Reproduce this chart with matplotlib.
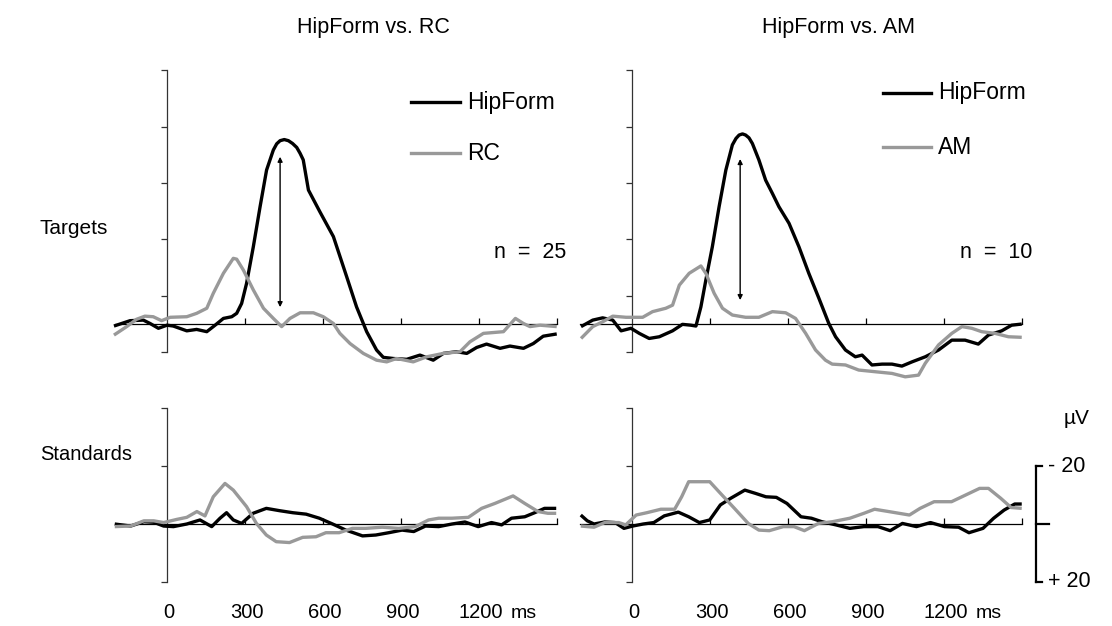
import matplotlib
matplotlib.use("Agg")
import matplotlib.pyplot as plt
from matplotlib.lines import Line2D

plt.rcParams["font.family"] = ["Liberation Sans", "DejaVu Sans"]

W, H = 1112, 626

# ---------------- data (time in ms, amplitude in µV; negative plotted up) ----------------
# Targets, HipForm vs. RC
t_tl_hip = [-204, -142, -91, -65, -33, 0, 24, 76, 114, 153, 185, 217, 249, 268, 287, 306, 332,
            358, 383, 409, 422, 435, 451, 467, 483, 499, 512, 524, 544, 588, 640, 691, 729, 768,
            806, 832, 870, 922, 973, 1024, 1063, 1114, 1153, 1191, 1229, 1281, 1319, 1371, 1409,
            1447, 1499]
v_tl_hip = [0.7, -1.2, -1.4, -0.2, 1.5, 0.4, 0.7, 2.4, 1.9, 2.7, 0.4, -2.0, -2.6, -3.8, -7.3,
            -14.4, -27.4, -41.6, -54.6, -61.7, -63.9, -65.0, -65.4, -65.0, -64.0, -62.6, -60.5,
            -58.2, -47.5, -39.8, -31.0, -16.8, -6.1, 2.7, 9.2, 11.8, 12.2, 12.5, 11.0, 12.8, 10.4,
            9.8, 10.4, 8.3, 7.1, 8.6, 7.8, 8.6, 6.9, 4.3, 3.5]
t_tl_rc = [-204, -155, -117, -85, -53, -21, 12, 76, 114, 153, 178, 217, 255, 268, 294, 332, 371,
           409, 441, 473, 512, 563, 601, 640, 665, 704, 755, 806, 845, 883, 947, 999, 1063, 1127,
           1165, 1217, 1294, 1340, 1371, 1396, 1435, 1499]
v_tl_rc = [3.9, 0.9, -1.7, -2.8, -2.6, -1.2, -2.4, -2.6, -3.8, -5.6, -10.9, -18.0, -23.3, -23.0,
           -19.1, -12.1, -5.6, -2.0, 0.9, -2.0, -4.0, -4.0, -2.6, -0.2, 3.3, 6.9, 10.4, 12.8,
           13.4, 12.2, 13.4, 11.6, 10.4, 9.8, 6.3, 3.3, 2.7, -2.0, -0.2, 0.9, 0.4, 0.9]

# Targets, HipForm vs. AM
t_tr_hip = [-196, -151, -113, -74, -42, -4, 28, 66, 105, 156, 194, 226, 246, 265, 284, 309, 335,
            361, 386, 400, 412, 425, 437, 450, 463, 488, 514, 540, 565, 604, 642, 680, 719, 757,
            783, 821, 859, 885, 923, 962, 1000, 1038, 1077, 1128, 1179, 1230, 1281, 1332, 1371,
            1422, 1460, 1499]
v_tr_hip = [0.9, -1.4, -2.2, -1.4, 2.4, 1.5, 3.3, 5.1, 4.5, 2.4, 0.1, 0.4, 0.7, -6.1, -15.6,
            -27.4, -41.6, -54.6, -63.5, -65.8, -67.0, -67.4, -67.0, -66.0, -64.0, -58.2, -51.0,
            -46.3, -41.6, -35.7, -27.4, -18.0, -9.1, -0.2, 4.5, 9.2, 11.6, 11.0, 14.5, 14.2, 14.2,
            14.9, 13.4, 11.6, 9.2, 5.7, 5.7, 7.1, 3.9, 2.4, 0.4, 0.0]
t_tr_am = [-196, -151, -113, -74, -23, 41, 79, 130, 156, 182, 220, 265, 284, 316, 348, 386, 437,
           488, 540, 591, 629, 668, 706, 744, 770, 821, 872, 936, 1000, 1051, 1102, 1128, 1179,
           1230, 1269, 1307, 1345, 1396, 1448, 1499]
v_tr_am = [5.1, 0.9, -0.8, -2.8, -2.4, -2.4, -4.4, -5.6, -6.7, -13.8, -18.0, -20.6, -18.0, -10.9,
           -5.6, -3.2, -2.4, -2.4, -4.4, -4.0, -2.0, 3.3, 9.2, 12.8, 14.2, 14.5, 16.3, 16.9, 17.5,
           18.7, 18.1, 13.9, 7.4, 3.3, 0.9, 1.5, 2.7, 3.3, 4.5, 4.7]

# Standards, HipForm vs. RC
t_bl_hip = [-201, -140, -89, -51, -13, 25, 76, 127, 172, 204, 229, 255, 287, 331, 382, 433, 484,
            535, 586, 637, 688, 752, 803, 853, 904, 949, 994, 1045, 1096, 1146, 1197, 1248, 1287,
            1325, 1376, 1414, 1452, 1497]
v_bl_hip = [0.0, 0.7, -0.8, -0.6, 0.7, 0.9, 0.0, -1.4, 0.9, -2.0, -3.9, -1.4, -0.2, -3.7, -5.4,
            -4.6, -3.9, -3.4, -2.0, 0.0, 2.1, 4.1, 3.8, 3.0, 2.1, 2.6, 0.7, 0.9, 0.0, -0.7, 0.9,
            -0.5, 0.3, -2.0, -2.5, -3.9, -5.4, -5.4]
t_bl_rc = [-201, -140, -89, -51, -13, 38, 76, 115, 146, 178, 223, 255, 306, 344, 382, 420, 471,
           522, 573, 611, 662, 713, 764, 828, 891, 955, 1006, 1045, 1096, 1159, 1210, 1261, 1331,
           1376, 1427, 1465, 1497]
v_bl_rc = [0.9, 0.7, -1.1, -1.1, -0.5, -1.6, -2.3, -4.3, -2.8, -9.4, -14.0, -11.7, -6.0, -0.2,
           3.8, 6.1, 6.4, 4.6, 4.4, 3.0, 3.0, 1.5, 1.5, 1.1, 1.5, 0.9, -1.4, -2.0, -2.0, -2.3,
           -5.4, -7.1, -9.7, -7.1, -4.3, -3.7, -3.7]

# Standards, HipForm vs. AM
t_br_hip = [-197, -172, -146, -105, -65, -31, 3, 43, 84, 124, 178, 218, 259, 299, 340, 380, 434,
            474, 515, 555, 596, 650, 690, 730, 784, 838, 892, 946, 993, 1040, 1094, 1148, 1202,
            1256, 1296, 1350, 1391, 1431, 1472, 1499]
v_br_hip = [-3.1, -1.1, 0.0, -0.7, -0.5, 1.5, 0.7, 0.0, -0.5, -2.8, -4.1, -2.5, -0.5, -1.4, -6.6,
            -8.9, -11.7, -10.6, -9.4, -9.2, -7.1, -2.5, -2.0, -0.8, 0.3, 1.5, 0.9, 0.9, 2.3, -0.2,
            0.9, -0.5, 0.9, 1.1, 3.0, 1.5, -2.0, -4.8, -6.9, -6.9]
t_br_am = [-197, -146, -105, -51, -24, 16, 57, 111, 164, 191, 218, 259, 299, 340, 394, 447, 488,
           528, 582, 623, 663, 717, 771, 838, 892, 933, 987, 1067, 1108, 1162, 1229, 1283, 1337,
           1371, 1418, 1458, 1499]
v_br_am = [0.7, 1.1, -0.5, -0.5, 0.3, -3.1, -3.9, -5.1, -5.1, -9.4, -14.6, -14.6, -14.6, -10.6,
           -5.4, -0.2, 2.1, 2.3, 0.9, 0.9, 2.3, -0.2, -0.8, -2.0, -3.7, -5.1, -4.3, -3.1, -5.4,
           -7.7, -7.7, -10.0, -12.3, -12.3, -8.9, -5.7, -5.4]

# peak-difference markers (time, from, to)
arrow_rc = (435, -59.3, -6.0)
arrow_am = (416, -58.5, -8.5)

titles = ["HipForm vs. RC", "HipForm vs. AM"]
row_labels = ["Targets", "Standards"]
legend_names = [("HipForm", "RC"), ("HipForm", "AM")]
n_labels = ["n  =  25", "n  =  10"]
time_ticks = [0, 300, 600, 900, 1200]
scale_labels = ["- 20", "+ 20"]

BLACK = "#000000"
GRAY = "#999999"
LW = 2.4


def px(x):
    return x / W


def py(y):
    return 1 - y / H


fig = plt.figure(figsize=(W / 100, H / 100), dpi=100)


def make_axes(x0, y0, x1, y1):
    return fig.add_axes([px(x0), py(y1), px(x1 - x0), (y1 - y0) / H])


# column pixel extents (-200 .. 1500 ms), row pixel extents
cols = [(115, 557), (580, 1022)]
rows = [(60, 385), (400, 595)]
row_ylim = [(21.6, -93.6), (24.5, -42.8)]
row_bounds = [(-90, 10), (-40, 20)]
row_yticks = [[-90, -70, -50, -30, -10, 10], [-40, -20, 0, 20]]

series = [
    [(t_tl_hip, v_tl_hip, t_tl_rc, v_tl_rc), (t_tr_hip, v_tr_hip, t_tr_am, v_tr_am)],
    [(t_bl_hip, v_bl_hip, t_bl_rc, v_bl_rc), (t_br_hip, v_br_hip, t_br_am, v_br_am)],
]

axes = {}
for r in range(2):
    for c in range(2):
        ax = make_axes(cols[c][0], rows[r][0], cols[c][1], rows[r][1])
        axes[(r, c)] = ax
        ax.set_xlim(-200, 1500)
        ax.set_ylim(*row_ylim[r])
        ax.patch.set_visible(False)
        for s in ["top", "right"]:
            ax.spines[s].set_visible(False)
        ax.spines["left"].set_position(("data", 0))
        ax.spines["left"].set_bounds(*row_bounds[r])
        ax.spines["left"].set_linewidth(0.9)
        ax.spines["left"].set_color("#333333")
        ax.spines["bottom"].set_position(("data", 0))
        ax.spines["bottom"].set_bounds(-200, 1500)
        ax.spines["bottom"].set_linewidth(0.9)
        ax.set_yticks(row_yticks[r])
        ax.set_xticks([300, 600, 900, 1200, 1500])
        ax.tick_params(axis="y", direction="out", length=4.5, width=0.9, color="#333333",
                       labelleft=False)
        ax.tick_params(axis="x", direction="in", length=4.5, width=0.9, labelbottom=False)

        th, vh, tg, vg = series[r][c]
        ax.plot(th, vh, color=BLACK, lw=LW, solid_joinstyle="round", solid_capstyle="butt",
                clip_on=False, zorder=3)
        ax.plot(tg, vg, color=GRAY, lw=LW, solid_joinstyle="round", solid_capstyle="butt",
                clip_on=False, zorder=4)

# double arrows in the target panels
for c, (t, a, b) in enumerate([arrow_rc, arrow_am]):
    axes[(0, c)].annotate("", xy=(t, a), xytext=(t, b),
                          arrowprops=dict(arrowstyle="<|-|>", color="black", lw=1.0,
                                          mutation_scale=7, shrinkA=0, shrinkB=0),
                          zorder=5)

# titles and row labels
for c, (title, cx) in enumerate(zip(titles, [373, 838])):
    fig.text(px(cx), py(28), title, ha="center", va="center", fontsize=15.5)
fig.text(px(40), py(228), row_labels[0], ha="left", va="center", fontsize=15)
fig.text(px(40), py(455), row_labels[1], ha="left", va="center", fontsize=14.5)

# legends
leg_geom = [((411, 460), (102, 153), 467), ((883, 931), (93, 147), 938)]
for (names, ((lx0, lx1), (ly0, ly1), tx)) in zip(legend_names, leg_geom):
    fig.add_artist(Line2D([px(lx0), px(lx1)], [py(ly0), py(ly0)], color=BLACK, lw=LW,
                          transform=fig.transFigure))
    fig.add_artist(Line2D([px(lx0), px(lx1)], [py(ly1), py(ly1)], color=GRAY, lw=LW,
                          transform=fig.transFigure))
    fig.text(px(tx), py(ly0), names[0], ha="left", va="center", fontsize=16.5)
    fig.text(px(tx), py(ly1), names[1], ha="left", va="center", fontsize=16.5)

# group sizes
fig.text(px(566), py(253), n_labels[0], ha="right", va="center", fontsize=15.5)
fig.text(px(1032), py(253), n_labels[1], ha="right", va="center", fontsize=15.5)

# time labels under the standards panels
for c in range(2):
    ax = axes[(1, c)]
    for t in time_ticks:
        x_disp = ax.transData.transform((t, 0))[0]
        fig.text(x_disp / W + px(2), py(612), str(t), ha="center", va="center", fontsize=14.5)
    x_ms = ax.transData.transform((1200, 0))[0] + 45
    fig.text(x_ms / W, py(613), "ms", ha="center", va="center", fontsize=14)

# amplitude scale bar beside the lower right panel
ax = axes[(1, 1)]
y_top = ax.transData.transform((0, -20))[1]
y_mid = ax.transData.transform((0, 0))[1]
y_bot = ax.transData.transform((0, 20))[1]
xb = 1036
for yv, ln in [(y_top, 6), (y_mid, 13), (y_bot, 6)]:
    fig.add_artist(Line2D([px(xb), px(xb + ln)], [yv / H, yv / H], color="black", lw=1.6,
                          transform=fig.transFigure))
fig.add_artist(Line2D([px(xb), px(xb)], [y_bot / H, y_top / H], color="black", lw=1.6,
                      transform=fig.transFigure))
fig.text(px(1048), y_top / H, scale_labels[0], ha="left", va="center", fontsize=15.5)
fig.text(px(1048), y_bot / H, scale_labels[1], ha="left", va="center", fontsize=15.5)
fig.text(px(1077), py(418), "µV", ha="center", va="center", fontsize=15)

fig.savefig("out.png", dpi=100)
